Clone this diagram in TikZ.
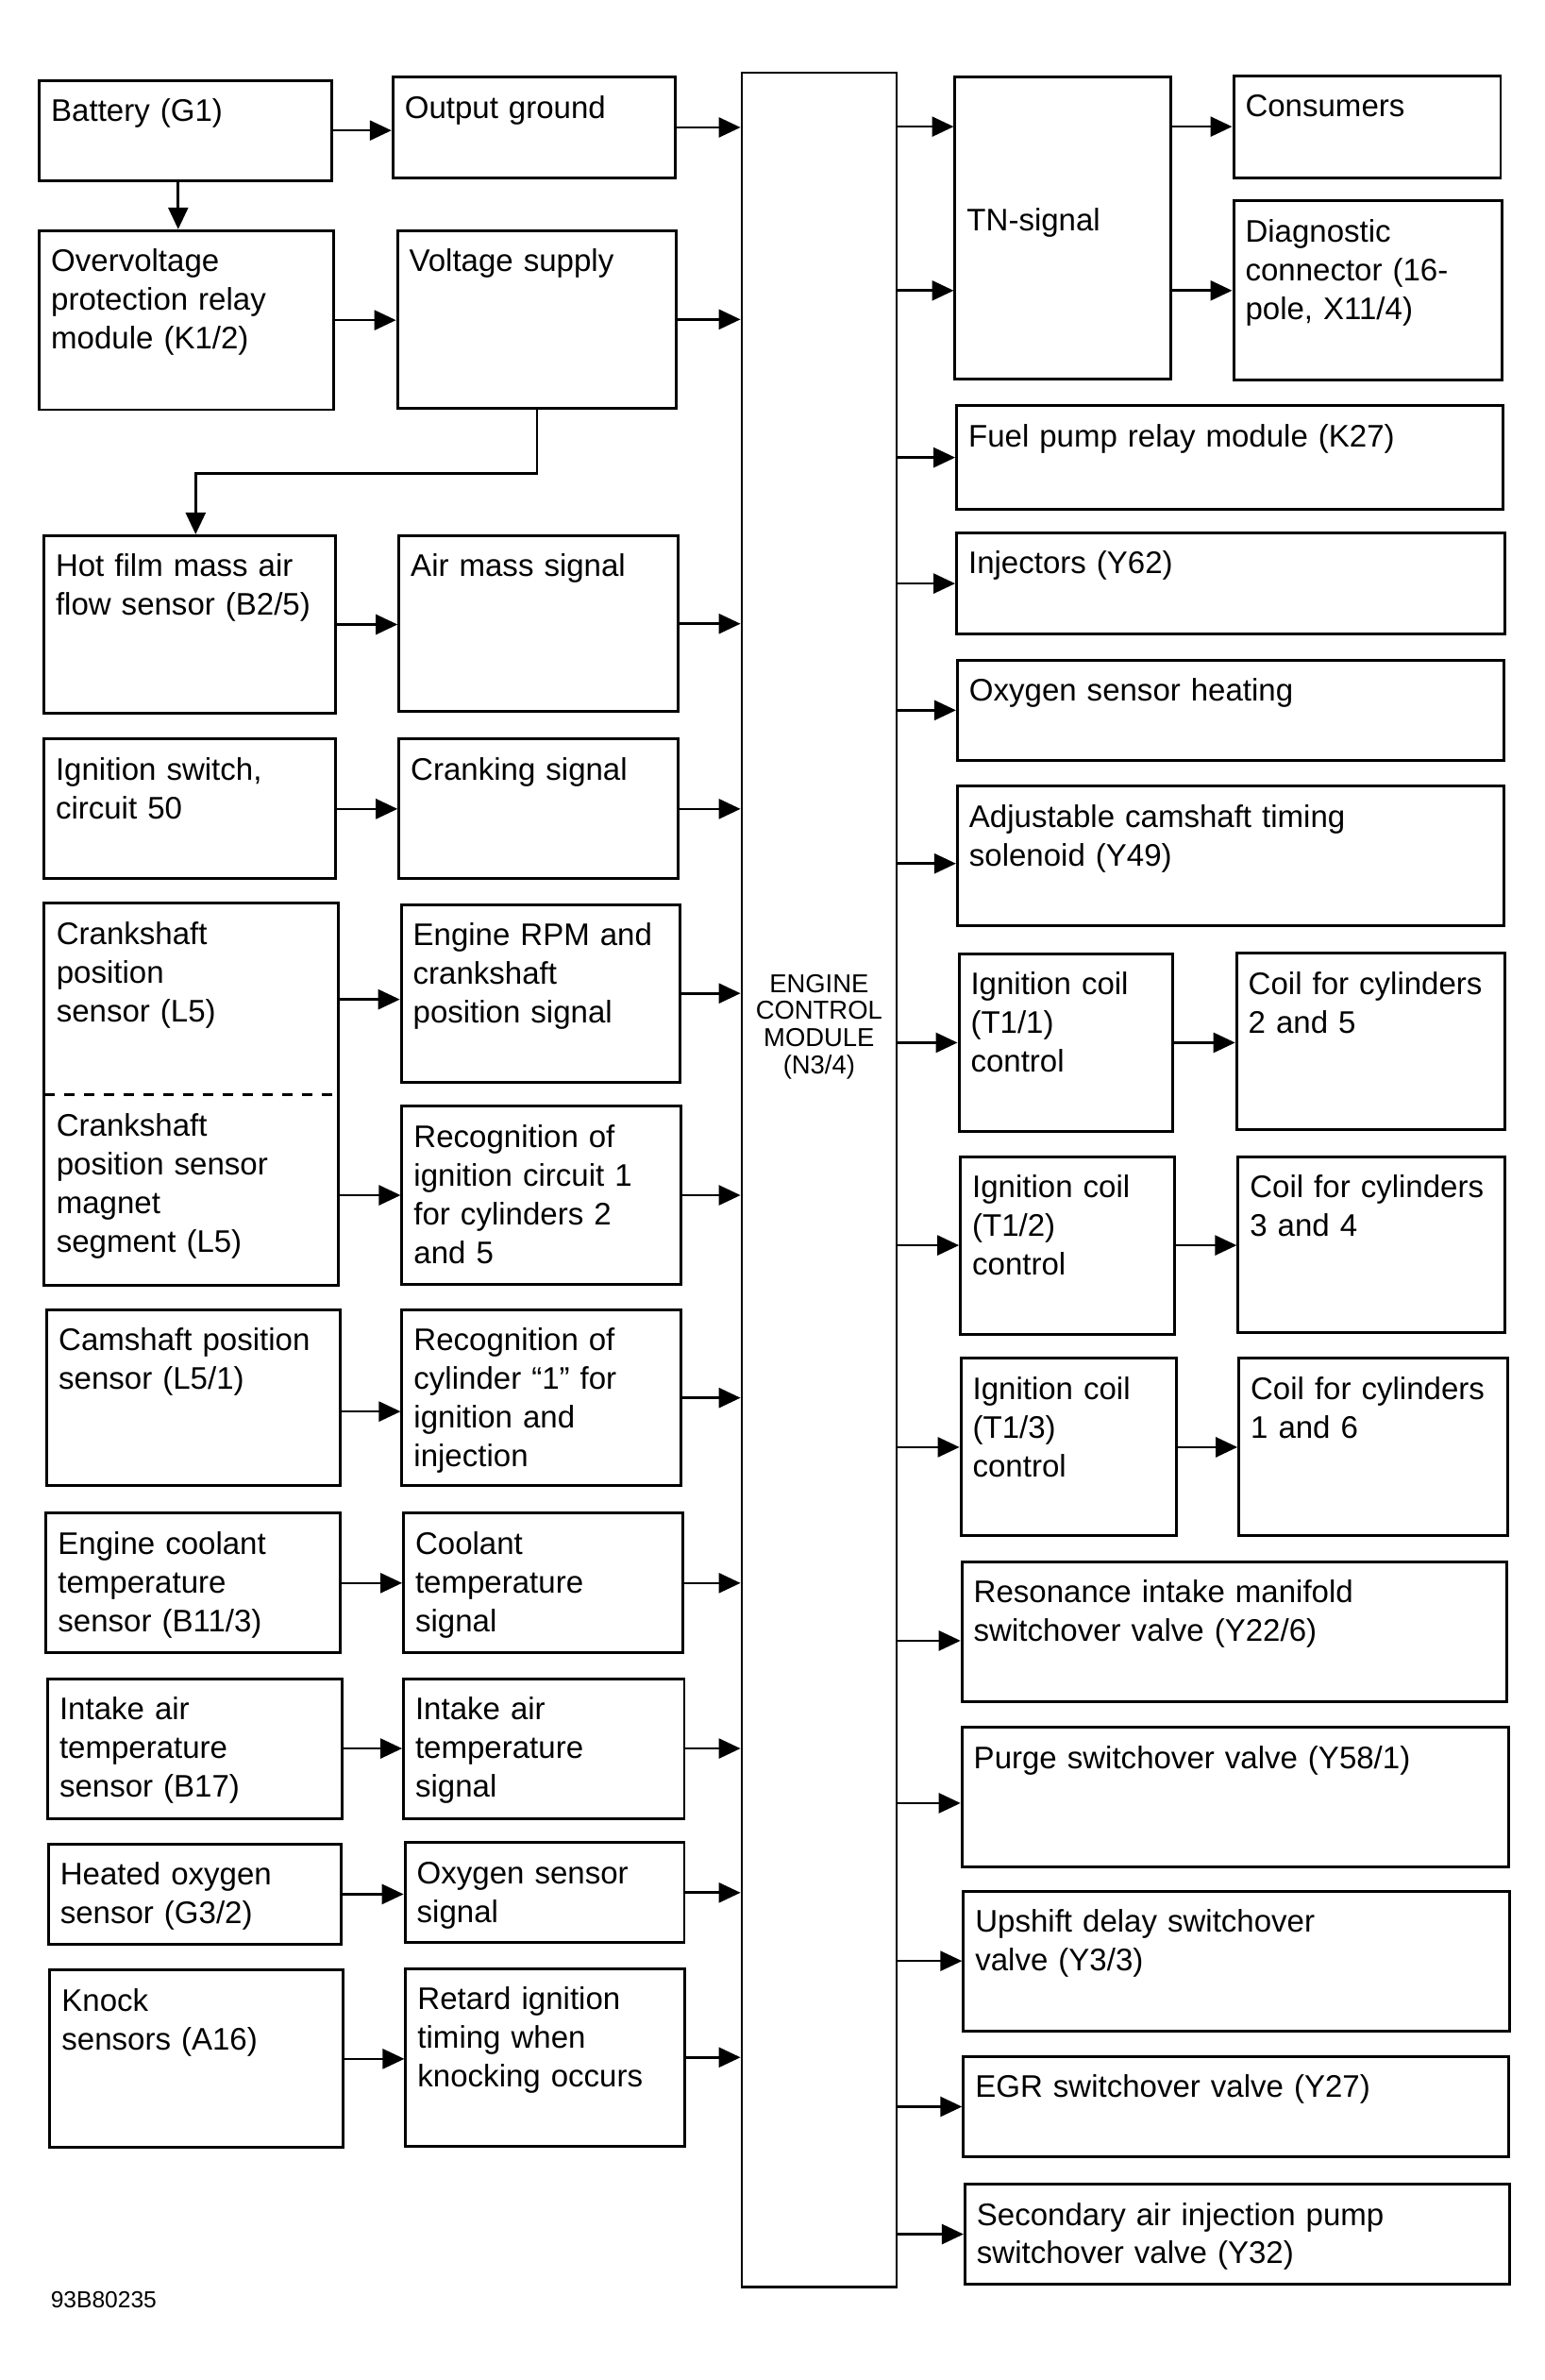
\documentclass[tikz,border=0pt]{standalone}
\usepackage{fontspec}
\setmainfont{Liberation Sans}
\usepackage{tikz}
\usetikzlibrary{positioning, arrows.meta}
\usetikzlibrary{fit}
% one pixel of the (shrunk) drawing
\newcommand{\pxu}{0.1608mm}

\begin{document}
\begin{tikzpicture}[x=\pxu, y=-\pxu, >={Triangle[length=2.3mm, width=2.1mm]},
	txt/.style n args={2}{anchor=north west, align=left, inner xsep=1.25mm, inner ysep=0pt,
		font=\fontsize{9.4pt}{11.65pt}\selectfont,
		text width=#1*\pxu-2.5mm, text height=4.35mm, text depth=#2*\pxu-4.35mm},
	blk/.style n args={2}{txt={#1}{#2}, draw, line width=0.85pt},
	link/.style={->, line width=0.75pt}]

	\useasboundingbox (0,0) rectangle (1018,1568);

	% --- Begin Engine Control Module Node ---
			\node [draw, line width=0.7pt, anchor=north west, align=center, inner sep=0pt, text width=102*\pxu, text height=606*\pxu, text depth=853*\pxu, font=\fontsize{7.8pt}{8.2pt}\selectfont] (EngineControlModule) at (488,47) {ENGINE\\CONTROL\\MODULE\\(N3/4)};
			% --- End Engine Control Module Node ---

			% --- Begin Input Nodes (sensors) ---
			\node [blk={193}{66}] (battery) at (25,52) {Battery (G1)};
			\node [blk={194}{118}] (overvoltage) at (25,151) {Overvoltage\\protection relay\\module (K1/2)};
			\node [blk={192}{117}] (hot_film) at (28,352) {Hot film mass air\\flow sensor (B2/5)};
			\node [blk={192}{92}] (ignition_switch) at (28,486) {Ignition switch,\\circuit 50};

			\node [txt={193}{126}] (crank_position) at (29,595) {Crankshaft\\position\\sensor (L5)};
			\node [txt={193}{125}] (crank_magnet) at (29,721) {Crankshaft\\position sensor\\magnet\\segment (L5)};
			% Merge both crankshaft nodes into one box.
			\node [draw, line width=0.85pt, fit={(crank_position) (crank_magnet)}, inner sep=0pt] (CrankshaftNode) {};
			\draw [line width=0.75pt, dash pattern=on 1.15mm off 0.95mm] (crank_magnet.north west) -- (crank_magnet.north east);

			\node [blk={193}{116}] (camshaft) at (30,862) {Camshaft position\\sensor (L5/1)};
			\node [blk={194}{92}] (coolant_sensor) at (29.5,996) {Engine coolant\\temperature\\sensor (B11/3)};
			\node [blk={194}{92}] (intake_sensor) at (30.5,1105) {Intake air\\temperature\\sensor (B17)};
			\node [blk={193}{66}] (oxygen_sensor) at (31,1214) {Heated oxygen\\sensor (G3/2)};
			\node [blk={193}{117}] (knock_sensors) at (32,1297) {Knock\\sensors (A16)};
			% --- End Input Nodes ---

			% --- Begin Signal Nodes ---
			\node [blk={186}{66}] (output_ground) at (258,50) {Output ground};
			\node [blk={184}{117}] (voltage_supply) at (261,151) {Voltage supply};
			\node [blk={184}{116}] (air_mass) at (262,352) {Air mass signal};
			\node [blk={184}{92}] (cranking) at (262,486) {Cranking signal};
			\node [blk={184}{117}] (engine_rpm) at (263.5,595) {Engine RPM and\\crankshaft\\position signal};
			\node [blk={184}{117}] (circuit_recognition) at (264,728) {Recognition of\\ignition circuit 1\\for cylinders 2\\and 5};
			\node [blk={184}{116}] (cylinder_recognition) at (264,862) {Recognition of\\cylinder “1” for\\ignition and\\injection};
			\node [blk={184}{92}] (coolant_signal) at (265,996) {Coolant\\temperature\\signal};
			\node [blk={185}{92}] (intake_signal) at (265,1105) {Intake air\\temperature\\signal};
			\node [blk={184}{66}] (oxygen_signal) at (266,1213) {Oxygen sensor\\signal};
			\node [blk={184}{117}] (retard_timing) at (266.5,1296) {Retard ignition\\timing when\\knocking occurs};
			% --- End Signal Nodes ---

			% --- Begin Output Nodes ---
			\node [blk={142}{199}, text height=101*\pxu, text depth=98*\pxu] (tn_signal) at (628.5,50) {TN-signal};
			\node [blk={176}{67}] (consumers) at (812,49) {Consumers};
			\node [blk={177}{118}] (diagnostic) at (812,131.5) {Diagnostic\\connector (16-\\pole, X11/4)};
			\node [blk={360}{68}] (fuel_pump) at (629.5,266.5) {Fuel pump relay module (K27)};
			\node [blk={361}{67}] (injectors) at (629.5,350) {Injectors (Y62)};
			\node [blk={360}{66}] (oxygen_heating) at (630,434) {Oxygen sensor heating};
			\node [blk={360}{92}] (camshaft_timing) at (630,517) {Adjustable camshaft timing\\solenoid (Y49)};

			\node [blk={141}{117}] (coil_control_a) at (631,627.5) {Ignition coil\\(T1/1)\\control};
			\node [blk={177}{116}] (coil_a) at (814,627) {Coil for cylinders\\2 and 5};
			\node [blk={141}{117}] (coil_control_b) at (632,761) {Ignition coil\\(T1/2)\\control};
			\node [blk={176}{116}] (coil_b) at (815,761) {Coil for cylinders\\3 and 4};
			\node [blk={142}{117}] (coil_control_c) at (632.3,894) {Ignition coil\\(T1/3)\\control};
			\node [blk={177}{117}] (coil_c) at (815.5,894) {Coil for cylinders\\1 and 6};

			\node [blk={359}{92}] (resonance) at (633,1028) {Resonance intake manifold\\switchover valve (Y22/6)};
			\node [blk={360}{92}] (purge) at (633,1137) {Purge switchover valve (Y58/1)};
			\node [blk={360}{92}] (upshift) at (634,1245) {Upshift delay switchover\\valve (Y3/3)};
			\node [blk={359}{66}] (egr) at (634,1354) {EGR switchover valve (Y27)};
			\node [blk={359}{66}] (secondary_air) at (635,1438) {Secondary air injection pump\\switchover valve (Y32)};
			% --- End Output Nodes ---

			\node [anchor=base west, inner sep=0pt, font=\fontsize{7pt}{8pt}\selectfont] (figure_number) at (33,1520.5) {93B80235};

			% Points where a connector is off the middle of its box.
			\coordinate (battery_out) at ([xshift=-5*\pxu]battery.south);
			\coordinate (hot_film_in) at ([xshift=4*\pxu]hot_film.north);
			\coordinate (camshaft_out) at ([yshift=-9*\pxu]camshaft.east);
			\coordinate (camshaft_timing_in) at ([yshift=-5*\pxu]camshaft_timing.west);
			\coordinate (resonance_in) at ([yshift=-6*\pxu]resonance.west);
			\coordinate (purge_in) at ([yshift=-4*\pxu]purge.west);

			% Connect the input nodes.
			\draw[link] (battery.east) -- (battery.east -| output_ground.west);
			\draw[link] (battery_out) -- (battery_out |- overvoltage.north);
			\draw[link] (overvoltage.east) -- (overvoltage.east -| voltage_supply.west);
			\draw[link] (voltage_supply.south) -- ++(0,42) -| (hot_film_in);
			\draw[link] (hot_film.east) -- (hot_film.east -| air_mass.west);
			\draw[link] (ignition_switch.east) -- (ignition_switch.east -| cranking.west);
			\draw[link] (crank_position.east) -- (crank_position.east -| engine_rpm.west);
			\draw[link] (circuit_recognition.west -| crank_magnet.east) -- (circuit_recognition.west);
			\draw[link] (camshaft_out) -- (camshaft_out -| cylinder_recognition.west);
			\draw[link] (coolant_sensor.east) -- (coolant_sensor.east -| coolant_signal.west);
			\draw[link] (intake_sensor.east) -- (intake_sensor.east -| intake_signal.west);
			\draw[link] (oxygen_sensor.east) -- (oxygen_sensor.east -| oxygen_signal.west);
			\draw[link] (knock_sensors.east) -- (knock_sensors.east -| retard_timing.west);

			% Connect the signals to the engine control module.
			\draw[link] (output_ground.east) -- (output_ground.east -| EngineControlModule.west);
			\draw[link] (voltage_supply.east) -- (voltage_supply.east -| EngineControlModule.west);
			\draw[link] (air_mass.east) -- (air_mass.east -| EngineControlModule.west);
			\draw[link] (cranking.east) -- (cranking.east -| EngineControlModule.west);
			\draw[link] (engine_rpm.east) -- (engine_rpm.east -| EngineControlModule.west);
			\draw[link] (circuit_recognition.east) -- (circuit_recognition.east -| EngineControlModule.west);
			\draw[link] (cylinder_recognition.east) -- (cylinder_recognition.east -| EngineControlModule.west);
			\draw[link] (coolant_signal.east) -- (coolant_signal.east -| EngineControlModule.west);
			\draw[link] (intake_signal.east) -- (intake_signal.east -| EngineControlModule.west);
			\draw[link] (oxygen_signal.east) -- (oxygen_signal.east -| EngineControlModule.west);
			\draw[link] (retard_timing.east) -- (retard_timing.east -| EngineControlModule.west);

			% Connect the engine control module to the outputs.
			\draw[link] (EngineControlModule.east |- consumers.west) -- (tn_signal.west |- consumers.west);
			\draw[link] (EngineControlModule.east |- diagnostic.west) -- (tn_signal.west |- diagnostic.west);
			\draw[link] (tn_signal.east |- consumers.west) -- (consumers.west);
			\draw[link] (tn_signal.east |- diagnostic.west) -- (diagnostic.west);
			\draw[link] (EngineControlModule.east |- fuel_pump.west) -- (fuel_pump.west);
			\draw[link] (EngineControlModule.east |- injectors.west) -- (injectors.west);
			\draw[link] (EngineControlModule.east |- oxygen_heating.west) -- (oxygen_heating.west);
			\draw[link] (EngineControlModule.east |- camshaft_timing_in) -- (camshaft_timing_in);
			\draw[link] (EngineControlModule.east |- coil_control_a.west) -- (coil_control_a.west);
			\draw[link] (EngineControlModule.east |- coil_control_b.west) -- (coil_control_b.west);
			\draw[link] (EngineControlModule.east |- coil_control_c.west) -- (coil_control_c.west);
			\draw[link] (coil_control_a.east) -- (coil_control_a.east -| coil_a.west);
			\draw[link] (coil_control_b.east) -- (coil_control_b.east -| coil_b.west);
			\draw[link] (coil_control_c.east) -- (coil_control_c.east -| coil_c.west);
			\draw[link] (EngineControlModule.east |- resonance_in) -- (resonance_in);
			\draw[link] (EngineControlModule.east |- purge_in) -- (purge_in);
			\draw[link] (EngineControlModule.east |- upshift.west) -- (upshift.west);
			\draw[link] (EngineControlModule.east |- egr.west) -- (egr.west);
			\draw[link] (EngineControlModule.east |- secondary_air.west) -- (secondary_air.west);

  \end{tikzpicture}
\end{document}
